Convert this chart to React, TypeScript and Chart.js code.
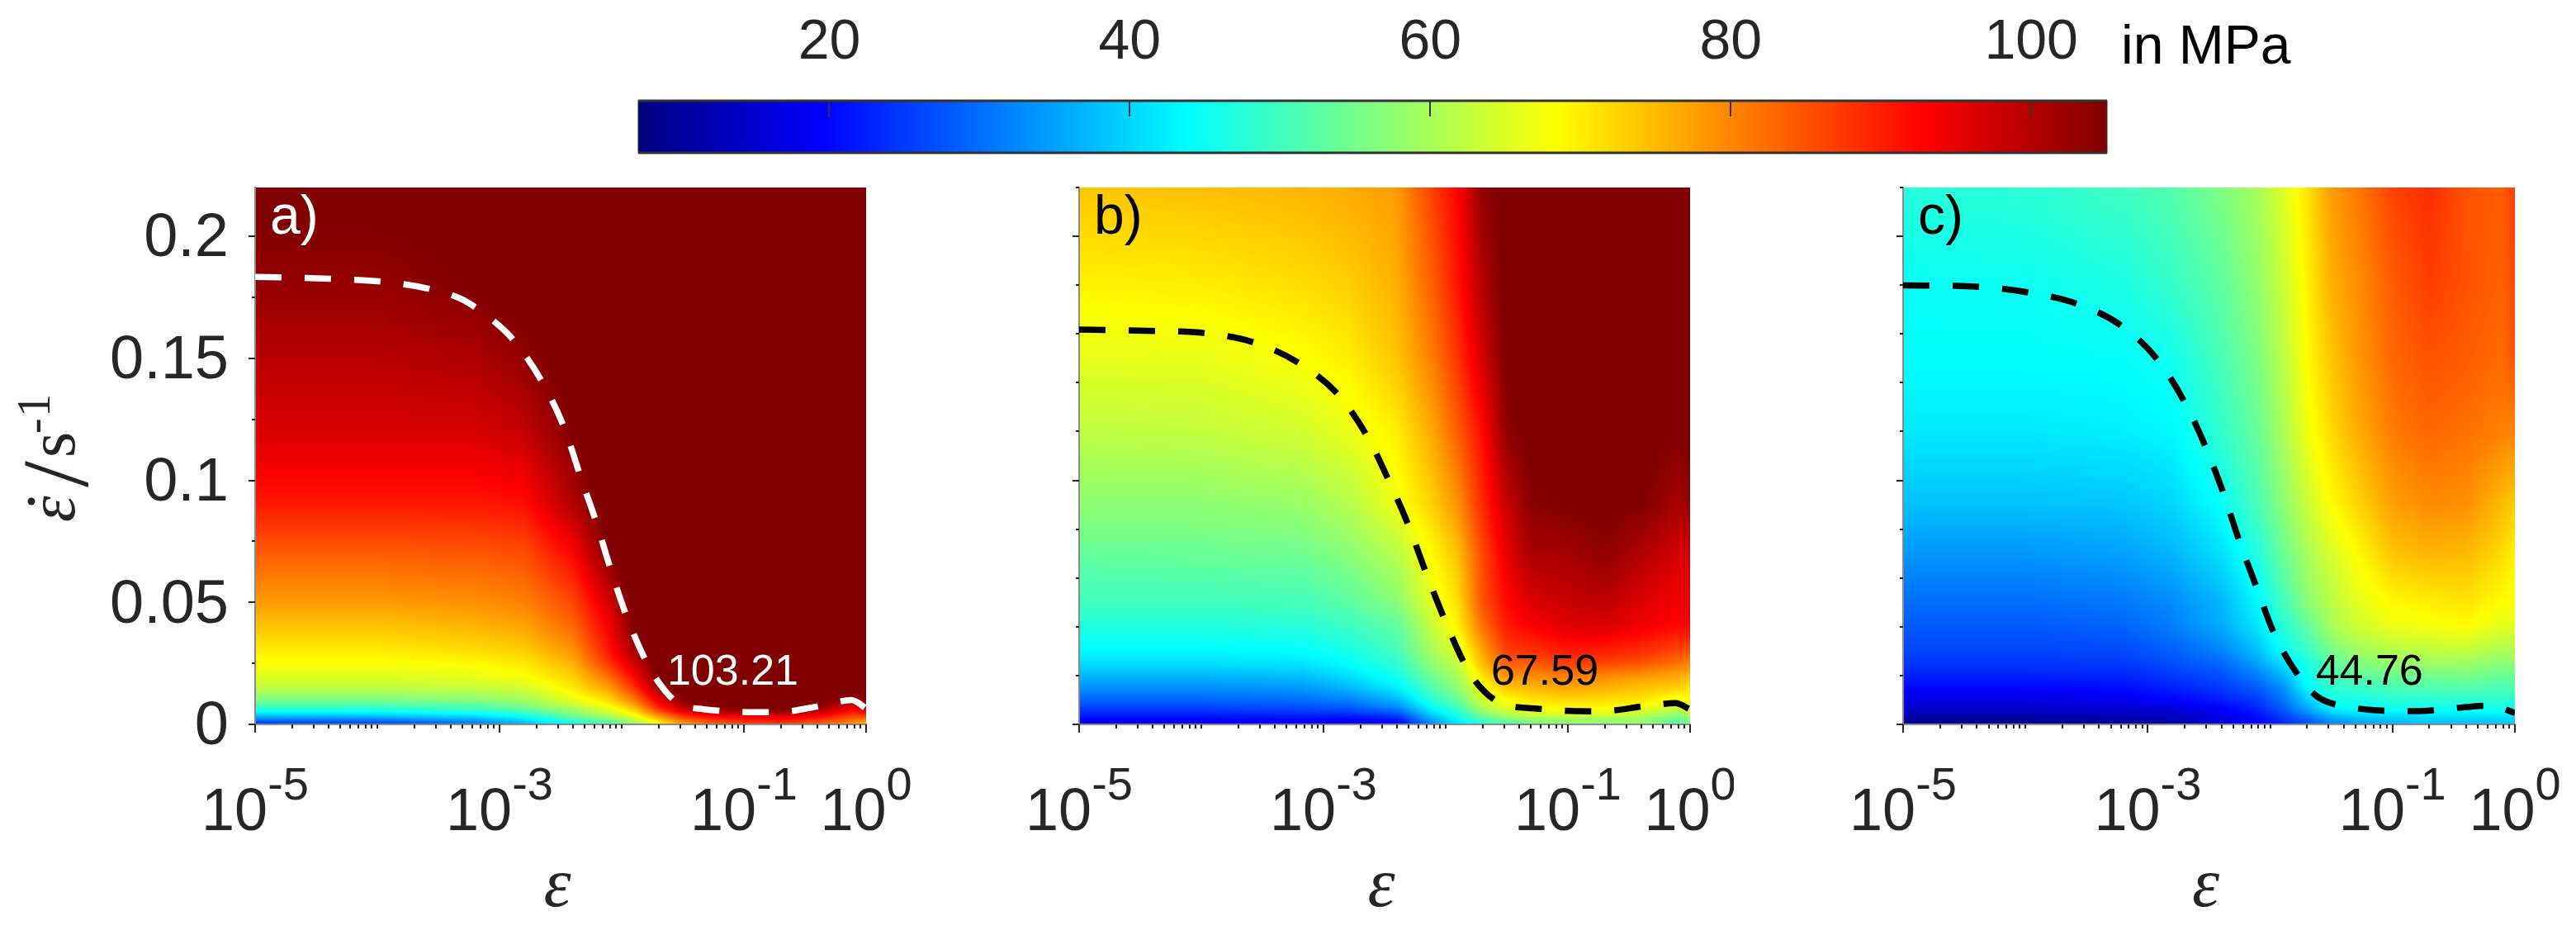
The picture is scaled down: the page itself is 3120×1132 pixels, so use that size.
import React, { useEffect, useRef } from "react";
import { Chart, registerables } from "chart.js";

Chart.register(...registerables);

// Grid axes of the three stress maps
const strainGrid = [1e-5, 1e-4, 6.3e-4, 1.6e-3, 4e-3, 7.9e-3, 0.0126, 0.02, 0.0316, 0.05, 0.1, 0.2, 0.4, 0.794, 1];
const rateGrid = [0, 0.003, 0.006, 0.01, 0.015, 0.02, 0.025, 0.03, 0.04, 0.05, 0.07, 0.09, 0.12, 0.15, 0.18, 0.22];

// Stress in MPa: one row per rate (bottom to top), one value per strain
const stressA = [
  [22, 23, 28, 36, 44, 50, 57, 67, 76, 81, 85, 86, 82, 78, 73],
  [36, 37, 40, 44, 53.5, 59, 65, 77, 87, 91, 94, 95, 92, 85, 85],
  [47, 47, 49, 53, 59.5, 66, 73, 88, 97, 102.5, 104, 105.5, 102, 92.5, 99],
  [56, 56, 57, 59.5, 66, 72, 81, 95, 104.5, 107, 107, 107, 106, 102.5, 105],
  [62, 62, 63, 64, 70.5, 77.5, 88, 102.5, 107, 108, 108, 108, 108, 106, 108],
  [65.5, 65.5, 66.5, 68.4, 73, 83, 93, 105.5, 108, 108, 108, 108, 108, 108, 108],
  [68, 68, 68.8, 70.5, 76, 88, 97, 107, 108, 108, 108, 108, 108, 108, 108],
  [70, 70, 71.5, 73, 78.5, 91, 101.5, 108, 108, 108, 108, 108, 108, 108, 108],
  [74, 74, 75.5, 77, 83, 93.5, 105, 108, 108, 108, 108, 108, 108, 108, 108],
  [78, 78, 79, 80.5, 86, 97, 107, 108, 108, 108, 108, 108, 108, 108, 108],
  [84, 84, 84.5, 85.5, 92.5, 105, 108, 108, 108, 108, 108, 108, 108, 108, 108],
  [90.5, 90.5, 90.5, 91.5, 100, 108, 108, 108, 108, 108, 108, 108, 108, 108, 108],
  [96.5, 96.5, 96.5, 98.5, 105, 108, 108, 108, 108, 108, 108, 108, 108, 108, 108],
  [99.5, 99.5, 100.5, 103, 107, 108, 108, 108, 108, 108, 108, 108, 108, 108, 108],
  [103, 103, 105, 107, 108, 108, 108, 108, 108, 108, 108, 108, 108, 108, 108],
  [106, 106, 106, 106, 107, 108, 108, 108, 108, 108, 108, 108, 108, 108, 108],
];
const stressB = [
  [17, 17, 17, 16.5, 18, 32, 41, 48, 50, 53, 55, 55.5, 57, 52, 54],
  [21, 21, 21.5, 21, 23.5, 38, 45, 53, 59, 61, 62, 62, 60, 55, 58],
  [25, 25, 26, 27, 31, 43, 49, 60, 64.5, 67, 68.5, 68, 66, 62, 66],
  [29, 29, 30, 32, 37, 48, 54, 64, 68.5, 71, 72, 71.5, 71, 67, 69],
  [33.5, 33.5, 34, 37, 42.5, 52, 57.5, 67.5, 74, 75, 77, 76, 74, 73, 71],
  [37, 37, 38, 41, 46, 55, 60, 71, 79, 79.5, 81, 80, 78.5, 77, 75],
  [41, 41, 41.5, 44, 48.5, 58, 62.5, 75, 84, 84, 87, 86.5, 85, 82, 80],
  [43.5, 43.5, 44, 46, 50.5, 60, 65, 77, 87, 88, 90.5, 90, 88.5, 86, 85],
  [47, 47, 47.5, 49.5, 53, 63, 69.5, 82, 90.5, 93, 95.5, 96, 94, 92, 93],
  [50, 50, 50.5, 52.5, 57, 66, 71.5, 85, 92, 96, 98, 99, 96, 94, 95],
  [53.5, 54, 54.5, 57, 61.5, 69, 74.5, 86, 95, 101, 101.5, 103.5, 100, 97, 97],
  [57.5, 57.5, 58.5, 61, 67, 73, 79, 89, 98, 104, 105, 105.5, 105, 101, 103],
  [62, 62.5, 64, 66.3, 70, 77, 84, 92, 103.5, 106, 106, 106, 106, 105, 106],
  [66, 66.2, 68, 70, 74, 81, 88, 97, 105.5, 106, 106, 106, 106, 105.5, 106],
  [69.5, 70, 71.5, 73, 76, 84, 91, 100, 106, 106, 106, 106, 106, 106, 106],
  [73.8, 74.5, 75.5, 76.5, 78, 87, 92.8, 103.5, 106, 106, 106, 106, 106, 106, 106],
];
const stressC = [
  [8, 8, 9, 11, 15, 19, 22.5, 27, 31, 33.5, 36, 37.5, 36.5, 38, 38],
  [11, 11, 12, 13.5, 17, 20.5, 25, 30, 36, 39, 40, 41, 41, 41, 41],
  [14, 14, 15, 16, 19, 22.5, 28, 35, 42, 44, 44.8, 45, 45, 45.5, 43.5],
  [17, 17, 18, 19.5, 22, 25, 30.5, 39, 46, 46, 47.5, 48, 48, 48.5, 48],
  [20, 20, 20.5, 22.5, 25, 28.5, 33, 43.5, 48.5, 49, 51, 51.5, 52, 51, 52],
  [22.5, 22.5, 23, 25, 27, 31.5, 37, 45.5, 50.5, 53, 54.5, 55, 55.5, 54, 55],
  [24.5, 24.5, 25, 27, 29.5, 35, 41, 46, 52.5, 56, 58, 59, 59, 57, 58],
  [26, 26, 26.5, 28.5, 32, 38, 44.5, 49, 55, 59, 61, 62, 62.5, 60, 61],
  [28, 28, 29, 31.5, 36, 41.5, 47.5, 53, 59.5, 63.5, 66.5, 67.5, 68.5, 65.5, 66],
  [30, 30, 31, 33, 37, 43.5, 50, 57, 61.5, 65.5, 69, 70, 71, 68.5, 68],
  [34, 34, 35, 37, 41, 47, 54, 60, 64.5, 68.5, 74, 75.5, 75, 72, 69.5],
  [38, 38, 38.5, 40, 44.5, 51, 57, 63, 68.5, 72, 77.5, 79.5, 79, 75, 73],
  [42, 42, 42.5, 43.5, 48.5, 54, 60, 67, 72, 76, 81, 83, 82, 80.5, 80],
  [44, 44, 44.3, 45.5, 51, 56, 61.5, 68.5, 74, 78, 83, 85, 84, 82.5, 85],
  [44.8, 45, 46.5, 49, 53, 58, 63, 69.5, 76, 79, 84, 87, 85, 83.5, 86],
  [47.5, 48, 50, 52, 56, 60, 65, 71, 78, 81, 86.5, 88.5, 85, 84, 87],
];

// Dashed iso-stress curves: log10(strain) and rate
const curveLogA = [-5, -4.39, -3.96, -3.58, -3.3, -3.03, -2.89, -2.66, -2.47, -2.33, -2.21, -2.09, -1.96, -1.8, -1.68, -1.54, -1.33, -0.74, -0.36, -0.12, 0];
const curveRateA = [0.1834, 0.1826, 0.1814, 0.1785, 0.174, 0.1645, 0.1577, 0.1411, 0.1215, 0.1004, 0.0831, 0.0635, 0.0443, 0.0258, 0.016, 0.0087, 0.0062, 0.005, 0.0077, 0.01, 0.0066];
const curveLogB = [-5, -4.38, -3.97, -3.57, -3.2, -2.88, -2.64, -2.47, -2.305, -2.16, -2.01, -1.84, -1.73, -1.56, -1.27, -0.75, -0.34, -0.12, 0];
const curveRateB = [0.1618, 0.1612, 0.1603, 0.1565, 0.148, 0.1351, 0.1178, 0.1004, 0.0816, 0.062, 0.0431, 0.0243, 0.016, 0.0089, 0.0065, 0.0053, 0.0077, 0.0087, 0.0062];
const curveLogC = [-5, -4.37, -3.98, -3.59, -3.22, -2.92, -2.7, -2.53, -2.38, -2.25, -2.11, -1.96, -1.75, -1.61, -1.42, -0.81, -0.2, 0];
const curveRateC = [0.1799, 0.1793, 0.177, 0.1725, 0.1635, 0.1494, 0.1321, 0.114, 0.0944, 0.0748, 0.056, 0.0363, 0.0187, 0.0112, 0.0077, 0.0054, 0.0077, 0.0047];

// Axis ticks and labels
const xMajorTicks = [1e-5, 1e-3, 1e-1, 1];
const xMajorExponents = ["-5", "-3", "-1", "0"];
const xDecades = [1e-5, 1e-4, 1e-3, 1e-2, 1e-1];
const xMultiples = [1, 2, 3, 4, 5, 6, 7, 8, 9];
const yLabelTicks = [0, 0.05, 0.1, 0.15, 0.2];
const yMinorTicksA = [0.025, 0.075, 0.125, 0.175];
const yMajorTicksBC = [0, 0.1, 0.2];
const yMinorTicksBC = [0.02, 0.04, 0.06, 0.08, 0.12, 0.14, 0.16, 0.18, 0.22];
const colorbarTicks = [20, 40, 60, 80, 100];
const colorMin = 7.28;
const colorMax = 105.05;
const panelLetters = ["a)", "b)", "c)"];
const panelValues = ["103.21", "67.59", "44.76"];
const colorbarUnit = "in MPa";

const SANS = '"Liberation Sans", Arial, sans-serif';
const SERIF = '"Liberation Serif", "Times New Roman", serif';
const INK = "#262626";

function jet(v: number): [number, number, number] {
  const t = Math.min(1, Math.max(0, (v - colorMin) / (colorMax - colorMin)));
  const ramp = (c: number) => Math.max(0, Math.min(1, 1.5 - Math.abs(4 * t - c)));
  return [ramp(3) * 255, ramp(2) * 255, ramp(1) * 255];
}

function locate(pixels: number[], p: number): [number, number] {
  const asc = pixels[0] < pixels[pixels.length - 1];
  let i = 0;
  while (i < pixels.length - 2 && (asc ? p > pixels[i + 1] : p < pixels[i + 1])) i++;
  const f = (p - pixels[i]) / (pixels[i + 1] - pixels[i]);
  return [i, Math.max(0, Math.min(1, f))];
}

function smooth(vals: Float32Array, w: number, h: number, r: number) {
  const tmp = new Float32Array(vals.length);
  const n = 2 * r + 1;
  for (let y = 0; y < h; y++) {
    for (let x = 0; x < w; x++) {
      let s = 0;
      for (let d = -r; d <= r; d++) s += vals[y * w + Math.min(w - 1, Math.max(0, x + d))];
      tmp[y * w + x] = s / n;
    }
  }
  for (let y = 0; y < h; y++) {
    for (let x = 0; x < w; x++) {
      let s = 0;
      for (let d = -r; d <= r; d++) s += tmp[Math.min(h - 1, Math.max(0, y + d)) * w + x];
      vals[y * w + x] = s / n;
    }
  }
}

const heatPlugin = (grid: number[][]) => ({
  id: "heat",
  beforeDraw(chart: any) {
    const { ctx, chartArea: a, scales } = chart;
    const xp = strainGrid.map((v) => scales.x.getPixelForValue(v));
    const yp = rateGrid.map((v) => scales.y.getPixelForValue(v));
    const w = Math.round(a.right - a.left);
    const h = Math.round(a.bottom - a.top);
    const off = document.createElement("canvas");
    off.width = w;
    off.height = h;
    const octx = off.getContext("2d")!;
    const img = octx.createImageData(w, h);
    const vals = new Float32Array(w * h);
    for (let py = 0; py < h; py++) {
      const [j, fy] = locate(yp, a.top + py + 0.5);
      for (let px = 0; px < w; px++) {
        const [i, fx] = locate(xp, a.left + px + 0.5);
        vals[py * w + px] =
          (1 - fy) * ((1 - fx) * grid[j][i] + fx * grid[j][i + 1]) +
          fy * ((1 - fx) * grid[j + 1][i] + fx * grid[j + 1][i + 1]);
      }
    }
    smooth(vals, w, h, 3);
    smooth(vals, w, h, 2);
    for (let k = 0; k < w * h; k++) {
      const [r, g, b] = jet(vals[k]);
      img.data[4 * k] = r;
      img.data[4 * k + 1] = g;
      img.data[4 * k + 2] = b;
      img.data[4 * k + 3] = 255;
    }
    octx.putImageData(img, 0, 0);
    ctx.save();
    ctx.drawImage(off, a.left, a.top);
    ctx.restore();
  },
});

const panelDecorPlugin = (index: number, top: number) => ({
  id: "decor",
  afterDraw(chart: any) {
    const { ctx, chartArea: a, scales } = chart;
    const textColor = index === 0 ? "#ffffff" : "#000000";
    ctx.save();
    ctx.strokeStyle = INK;
    ctx.lineWidth = 2;
    const xTick = (v: number, len: number) => {
      const p = Math.round(scales.x.getPixelForValue(v));
      ctx.beginPath();
      ctx.moveTo(p, a.bottom);
      ctx.lineTo(p, a.bottom + len);
      ctx.stroke();
    };
    const yTick = (v: number, len: number) => {
      const p = Math.round(scales.y.getPixelForValue(v));
      ctx.beginPath();
      ctx.moveTo(a.left, p);
      ctx.lineTo(a.left - len, p);
      ctx.stroke();
    };
    xDecades.forEach((d) => xMultiples.forEach((m) => xTick(d * m, 5)));
    xMajorTicks.forEach((v) => xTick(v, 10));
    (index === 0 ? yLabelTicks : yMajorTicksBC).forEach((v) => yTick(v, 8));
    (index === 0 ? yMinorTicksA : yMinorTicksBC).forEach((v) => yTick(v, 4));

    // Tick labels with superscripts
    ctx.fillStyle = INK;
    ctx.textBaseline = "alphabetic";
    ctx.textAlign = "left";
    xMajorTicks.forEach((v, i) => {
      ctx.font = `72px ${SANS}`;
      const baseW = ctx.measureText("10").width;
      ctx.font = `56px ${SANS}`;
      const supW = ctx.measureText(xMajorExponents[i]).width;
      const start = scales.x.getPixelForValue(v) - (baseW + supW) / 2;
      ctx.font = `72px ${SANS}`;
      ctx.fillText("10", start, 1005 - top);
      ctx.font = `56px ${SANS}`;
      ctx.fillText(xMajorExponents[i], start + baseW, 968 - top);
    });

    // Axis title
    ctx.textAlign = "center";
    ctx.font = `italic 84px ${SERIF}`;
    ctx.fillText("ε", (a.left + a.right) / 2 - 4, 1097 - top);

    // Panel letter and curve value
    ctx.textAlign = "left";
    ctx.fillStyle = textColor;
    ctx.font = `66px ${SANS}`;
    ctx.fillText(panelLetters[index], a.left + 18, 283 - top);
    ctx.font = `52px ${SANS}`;
    const valueX = scales.x.getPixelForValue(0.0316);
    ctx.fillText(panelValues[index], valueX - 19, 829 - top);

    // Rate axis title, only on the first panel
    if (index === 0) {
      ctx.fillStyle = INK;
      const piece = (t: string, font: string, bx: number, sy: number) => {
        ctx.save();
        ctx.translate(bx, sy - top);
        ctx.rotate(-Math.PI / 2);
        ctx.font = font;
        ctx.textAlign = "left";
        ctx.fillText(t, 0, 0);
        ctx.restore();
      };
      piece("ε", `italic 80px ${SERIF}`, 90, 632);
      ctx.beginPath();
      ctx.arc(38, 607 - top, 4.5, 0, Math.PI * 2);
      ctx.fill();
      piece("/", `115px ${SERIF}`, 106, 590);
      piece("s", `80px ${SERIF}`, 90, 554);
      piece("-", `56px ${SERIF}`, 60, 525);
      piece("1", `56px ${SERIF}`, 60, 505);
    }
    ctx.restore();
  },
});

const colorbarPlugin = {
  id: "colorbar",
  beforeDraw(chart: any) {
    const { ctx, chartArea: a, scales } = chart;
    for (let p = Math.round(a.left); p < a.right; p++) {
      const [r, g, b] = jet(scales.x.getValueForPixel(p + 0.5));
      ctx.fillStyle = `rgb(${r},${g},${b})`;
      ctx.fillRect(p, a.top, 1, a.bottom - a.top);
    }
  },
  afterDraw(chart: any) {
    const { ctx, chartArea: a, scales } = chart;
    ctx.save();
    ctx.strokeStyle = "#333333";
    ctx.lineWidth = 3;
    ctx.beginPath();
    ctx.moveTo(a.left, a.top);
    ctx.lineTo(a.right, a.top);
    ctx.moveTo(a.left, a.bottom);
    ctx.lineTo(a.right, a.bottom);
    ctx.stroke();
    ctx.lineWidth = 1;
    ctx.strokeRect(a.left, a.top, a.right - a.left, a.bottom - a.top);
    ctx.lineWidth = 2;
    colorbarTicks.forEach((v) => {
      const p = Math.round(scales.x.getPixelForValue(v));
      ctx.beginPath();
      ctx.moveTo(p, a.top);
      ctx.lineTo(p, a.top + 19);
      ctx.stroke();
    });
    ctx.fillStyle = "#000000";
    ctx.font = `66px ${SANS}`;
    ctx.textBaseline = "alphabetic";
    ctx.fillText(colorbarUnit, 2569, 77);
    ctx.restore();
  },
};

const panels = [
  { grid: stressA, log: curveLogA, rate: curveRateA, color: "#ffffff", left: 0, width: 1120, areaLeft: 309, areaRight: 1049 },
  { grid: stressB, log: curveLogB, rate: curveRateB, color: "#000000", left: 1200, width: 900, areaLeft: 1307, areaRight: 2047 },
  { grid: stressC, log: curveLogC, rate: curveRateC, color: "#000000", left: 2200, width: 920, areaLeft: 2305, areaRight: 3046 },
];
const PANEL_TOP = 200;
const PANEL_HEIGHT = 932;
const AREA_TOP = 227;
const AREA_BOTTOM = 877;
const Y_AXIS_W = 60;

export default function App() {
  const refs = useRef<(HTMLCanvasElement | null)[]>([]);
  const barRef = useRef<HTMLCanvasElement | null>(null);

  useEffect(() => {
    const charts: Chart[] = [];
    panels.forEach((panel, index) => {
      const axisW = index === 0 ? 240 : Y_AXIS_W;
      const chart = new Chart(refs.current[index]!, {
        type: "scatter",
        data: {
          datasets: [
            {
              data: panel.log.map((l, i) => ({ x: Math.pow(10, l), y: panel.rate[i] })),
              showLine: true,
              pointRadius: 0,
              borderColor: panel.color,
              borderWidth: 7.5,
              borderDash: [32, 28],
              cubicInterpolationMode: "monotone",
            },
          ],
        },
        options: {
          responsive: false,
          animation: false,
          devicePixelRatio: 1,
          layout: {
            padding: {
              left: panel.areaLeft - panel.left - axisW,
              right: panel.left + panel.width - panel.areaRight,
              top: AREA_TOP - PANEL_TOP,
              bottom: PANEL_TOP + PANEL_HEIGHT - AREA_BOTTOM,
            },
          },
          plugins: { legend: { display: false }, tooltip: { enabled: false } },
          scales: {
            x: {
              type: "logarithmic",
              min: 1e-5,
              max: 1,
              grid: { display: false },
              border: { display: true, color: "#8a8a8a", width: 2 },
              ticks: { display: false },
              afterFit: (s: any) => {
                s.height = 0;
                s.paddingLeft = 0;
                s.paddingRight = 0;
              },
            },
            y: {
              type: "linear",
              min: 0,
              max: 0.22,
              grid: { display: false },
              border: { display: true, color: "#8a8a8a", width: 2 },
              afterBuildTicks: (s: any) => {
                s.ticks = yLabelTicks.map((value) => ({ value }));
              },
              ticks: {
                display: index === 0,
                autoSkip: false,
                padding: 24,
                labelOffset: 4,
                color: INK,
                font: { family: SANS, size: 74 },
                callback: (v: any) => String(v),
              },
              afterFit: (s: any) => {
                s.width = axisW;
                s.paddingTop = 0;
                s.paddingBottom = 0;
              },
            },
          },
        },
        plugins: [heatPlugin(panel.grid), panelDecorPlugin(index, PANEL_TOP)],
      } as any);
      charts.push(chart);
    });

    const bar = new Chart(barRef.current!, {
      type: "scatter",
      data: { datasets: [{ data: [] }] },
      options: {
        responsive: false,
        animation: false,
        devicePixelRatio: 1,
        layout: { padding: { left: 773, right: 3120 - 2552, top: 0, bottom: 15 } },
        plugins: { legend: { display: false }, tooltip: { enabled: false } },
        scales: {
          x: {
            type: "linear",
            position: "top",
            min: colorMin,
            max: colorMax,
            grid: { display: false },
            border: { display: false },
            afterBuildTicks: (s: any) => {
              s.ticks = colorbarTicks.map((value) => ({ value }));
            },
            ticks: {
              autoSkip: false,
              maxRotation: 0,
              padding: 21,
              color: INK,
              font: { family: SANS, size: 68 },
              callback: (v: any) => String(v),
            },
            afterFit: (s: any) => {
              s.height = 122;
              s.paddingLeft = 0;
              s.paddingRight = 0;
            },
          },
          y: { display: false, min: 0, max: 1 },
        },
      },
      plugins: [colorbarPlugin],
    } as any);
    charts.push(bar);
    return () => charts.forEach((c) => c.destroy());
  }, []);

  return (
    <div style={{ position: "fixed", left: 0, top: 0, width: 3120, height: 1132, overflow: "hidden", background: "#fff" }}>
      <canvas
        ref={barRef}
        width={3120}
        height={200}
        style={{ position: "absolute", left: 0, top: 0, width: 3120, height: 200 }}
      />
      {panels.map((p, i) => (
        <canvas
          key={i}
          ref={(el) => {
            refs.current[i] = el;
          }}
          width={p.width}
          height={PANEL_HEIGHT}
          style={{ position: "absolute", left: p.left, top: PANEL_TOP, width: p.width, height: PANEL_HEIGHT }}
        />
      ))}
    </div>
  );
}
